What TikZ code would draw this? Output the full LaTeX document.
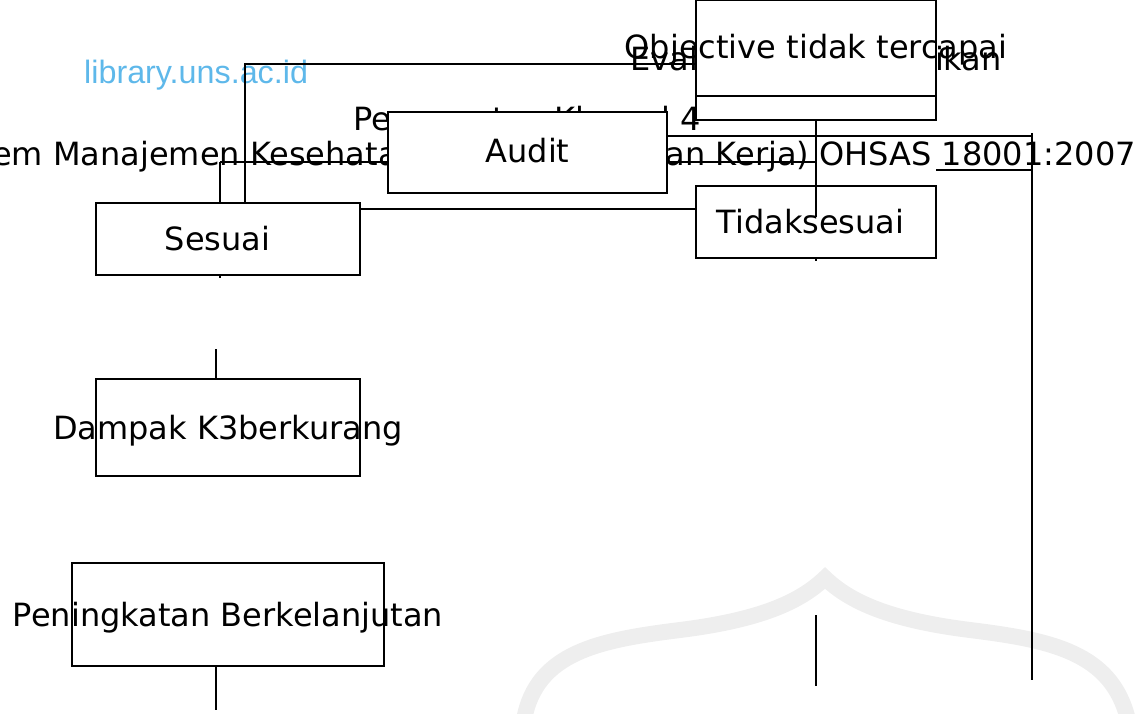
\documentclass[tikz,border=0pt]{standalone}
\usepackage{fontspec}
\setmainfont{DejaVu Sans}
\newfontfamily\wmfont{Liberation Sans}
\definecolor{wmblue}{RGB}{94,184,234}
\definecolor{wmgray}{RGB}{238,238,238}
\begin{document}
\begin{tikzpicture}[x=1pt,y=-1pt,
  box/.style={draw, line width=1.3pt, fill=white, inner sep=0pt, outer sep=0pt},
  lbl/.style={anchor=base, inner sep=0pt, font=\fontsize{32}{38}\selectfont},
  conn/.style={line width=1.3pt},
  wm/.style={line width=16pt, wmgray}]
\useasboundingbox (0,0) rectangle (1142,714);
% watermark
\draw[wm] (524,720) .. controls (536,652) and (600,640) .. (680,630)
  .. controls (760,620) and (800,602) .. (825,578)
  .. controls (850,602) and (890,620) .. (970,630)
  .. controls (1050,640) and (1112,652) .. (1128,720);
\node[anchor=base west, inner sep=0pt, text=wmblue, font=\wmfont\fontsize{32.3}{38}\selectfont] (wmtext) at (84,84) {library.uns.ac.id};
% lines behind the Audit box
\coordinate (p2) at (220,162);
\coordinate (p3) at (1032,136);
\coordinate (p3top) at (1032,133);
\coordinate (p3end) at (1032,680);
\draw[conn] (p2) -- (816,162);
\draw[conn] (600,136) -- (p3);
\draw[conn] (p3top) -- (p3end);
% texts partly hidden
\node[lbl, anchor=base west] (t1) at (353,131) {Persyaratan Klausul 4};
\node[lbl, anchor=base east] (t2) at (1136,166) {(Sistem Manajemen Kesehatan dan Keselamatan Kerja) OHSAS 18001:2007};
\node[lbl] (t3) at (816,71) {Evaluasi dan Perbaikan};
% boxes
\node[box, minimum width=240pt, minimum height=120pt] (obj) at (816,60) {};
\draw[conn] (obj.west |- 0,96) -- (obj.east |- 0,96);
\node[box, minimum width=279pt, minimum height=81pt] (audit) at (527.5,152.5) {};
\node[box, minimum width=264pt, minimum height=72pt] (sesuai) at (228,239) {};
\node[box, minimum width=240pt, minimum height=72pt] (tidak) at (816,222) {};
\node[box, minimum width=264pt, minimum height=97pt] (dampak) at (228,427.5) {};
\node[box, minimum width=312pt, minimum height=103pt] (pening) at (228,614.5) {};
% connectors
\coordinate (p1) at (245,64);
\draw[conn] (p1 -| obj.west) -- (p1) -- (p1 |- sesuai.north);
\draw[conn] (p2) -- (p2 |- sesuai.north);
\coordinate (s1) at (220,275);
\draw[conn] (s1) -- ++(0,3);
\coordinate (p4) at (0,170);
\draw[conn] (p4 -| obj.east) -- (p4 -| p3);
\coordinate (p6) at (816,217);
\draw[conn] (obj.south) -- (p6);
\draw[conn] (tidak.south) -- ++(0,3);
\coordinate (p5) at (0,209);
\draw[conn] (sesuai.east |- p5) -- (tidak.west |- p5);
\coordinate (d1) at (216,349);
\draw[conn] (d1) -- (d1 |- dampak.north);
\coordinate (d2) at (216,710);
\draw[conn] (d2 |- pening.south) -- (d2);
\coordinate (b1) at (816,615);
\coordinate (b2) at (816,686);
\draw[conn] (b1) -- (b2);
% labels
\node[lbl] (lobj) at (816,59) {Objective tidak tercapai};
\node[lbl] (laudit) at (527.5,163) {Audit};
\node[lbl] (lsesuai) at (217.5,250) {Sesuai};
\node[lbl] (ltidak) at (810.5,233) {Tidaksesuai};
\node[lbl] (ldampak) at (228,439) {Dampak K3berkurang};
\node[lbl] (lpening) at (228,626) {Peningkatan Berkelanjutan};
\end{tikzpicture}
\end{document}
